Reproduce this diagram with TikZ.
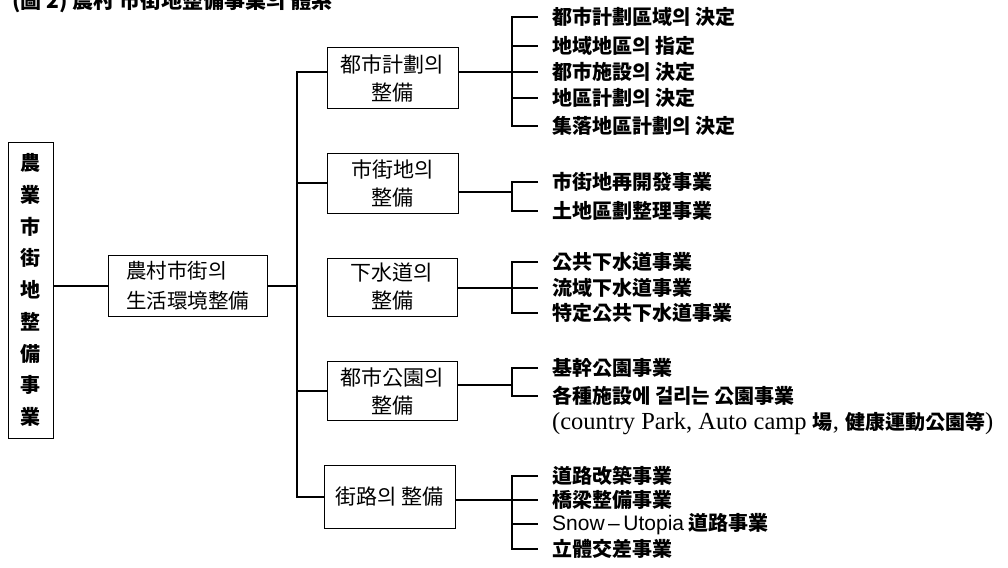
\documentclass[tikz,border=0pt]{standalone}
\usepackage{fontspec}
\setmainfont{Noto Sans CJK KR}
\newfontfamily\lserif{Liberation Serif}
\newfontfamily\lsans{Liberation Sans}
\newcommand\latserif[1]{{\lserif\mdseries\fontsize{24.5}{24.5}\selectfont #1}}
\newcommand\latsans[1]{{\lsans\mdseries\fontsize{21}{21}\selectfont #1}}
\begin{document}
\begin{tikzpicture}[x=1pt,y=-1pt,
  box/.style={draw, line width=1pt, inner sep=0pt, align=center, font=\fontsize{21}{28}\selectfont},
  ln/.style={line width=1.3pt},
  item/.style={anchor=west, inner sep=0pt, font=\fontsize{20}{20}\selectfont\bfseries},
]
\useasboundingbox (0,0) rectangle (1008,567);
\clip (0,0) rectangle (1008,567);

% title (cut off at the top edge, as in the reference)
\node[anchor=west, inner sep=0pt, font=\fontsize{21}{21}\selectfont\bfseries] (title) at (12,1.5) {(圖 2) 農村 市街地整備事業의 體系};

% left column
\node[box, minimum width=45, minimum height=296, font=\fontsize{20}{31.7}\selectfont\bfseries] (L) at (30.5,290) {農\\業\\市\\街\\地\\整\\備\\事\\業};
\node[box, minimum width=159, minimum height=61, align=left, font=\fontsize{20.5}{30}\selectfont] (R) at (187.5,286) {農村市街의\\生活環境整備};

% middle boxes
\node[box, minimum width=131, minimum height=61] (b1) at (392.5,78) {都市計劃의\\整備};
\node[box, minimum width=131, minimum height=60] (b2) at (392.5,183) {市街地의\\整備};
\node[box, minimum width=130, minimum height=58] (b3) at (392,287) {下水道의\\整備};
\node[box, minimum width=130, minimum height=59] (b4) at (392,391) {都市公園의\\整備};
\node[box, minimum width=131, minimum height=63] (b5) at (389.5,497) {街路의 整備};

% items
\node[item] (i11) at (552,17) {都市計劃區域의 決定};
\node[item] (i12) at (552,46) {地域地區의 指定};
\node[item] (i13) at (552,72) {都市施設의 決定};
\node[item] (i14) at (552,98) {地區計劃의 決定};
\node[item] (i15) at (552,126) {集落地區計劃의 決定};

\node[item] (i21) at (552,182) {市街地再開發事業};
\node[item] (i22) at (552,211) {土地區劃整理事業};

\node[item] (i31) at (552,262) {公共下水道事業};
\node[item] (i32) at (552,288) {流域下水道事業};
\node[item] (i33) at (552,313) {特定公共下水道事業};

\node[item] (i41) at (552,368) {基幹公園事業};
\node[item] (i42) at (552,396) {各種施設에 걸리는 公園事業};
\node[item] (i43) at (552,423) {\latserif{(country Park, Auto camp }場\latserif{, }健康運動公園等\latserif{)}};

\node[item] (i51) at (552,476) {道路改築事業};
\node[item] (i52) at (552,500) {橋梁整備事業};
\node[item] (i53) at (552,524) {\latsans{Snow\,–\,Utopia} 道路事業};
\node[item] (i54) at (552,549) {立體交差事業};

% left connectors and trunk
\coordinate (tx) at (297,0);
\coordinate (bx) at (512,0);
\draw[ln] (L.east |- R.west) -- (R.west);
\draw[ln] (R.east) -- (R.east -| tx);
\draw[ln] ([yshift=6pt]b1.west) -| (b5.west -| tx) -- (b5.west);
\draw[ln] (b2.west) -- (b2.west -| tx);
\draw[ln] (b4.west) -- (b4.west -| tx);

% bracket 1
\draw[ln] ([xshift=-14pt]i11.west) -| (i15.west -| bx) -- ([xshift=-14pt]i15.west);
\draw[ln] (i12.west -| bx) -- ([xshift=-14pt]i12.west);
\draw[ln] (i14.west -| bx) -- ([xshift=-14pt]i14.west);
\draw[ln] (b1.east |- i13.west) -- ([xshift=-14pt]i13.west);

% bracket 2
\draw[ln] ([xshift=-14pt]i21.west) -| (i22.west -| bx) -- ([xshift=-14pt]i22.west);
\draw[ln] ([yshift=-9pt]b2.east) -- ([yshift=-9pt]b2.east -| bx);

% bracket 3
\draw[ln] ([xshift=-14pt]i31.west) -| (i33.west -| bx) -- ([xshift=-14pt]i33.west);
\draw[ln] (b3.east |- i32.west) -- ([xshift=-14pt]i32.west);

% bracket 4
\draw[ln] ([xshift=-14pt]i41.west) -| (i42.west -| bx) -- ([xshift=-14pt]i42.west);
\draw[ln] ([yshift=6pt]b4.east) -- ([yshift=6pt]b4.east -| bx);

% bracket 5
\draw[ln] ([xshift=-14pt]i51.west) -| (i54.west -| bx) -- ([xshift=-14pt]i54.west);
\draw[ln] (i53.west -| bx) -- ([xshift=-14pt]i53.west);
\draw[ln] (b5.east |- i52.west) -- ([xshift=-14pt]i52.west);
\end{tikzpicture}
\end{document}
